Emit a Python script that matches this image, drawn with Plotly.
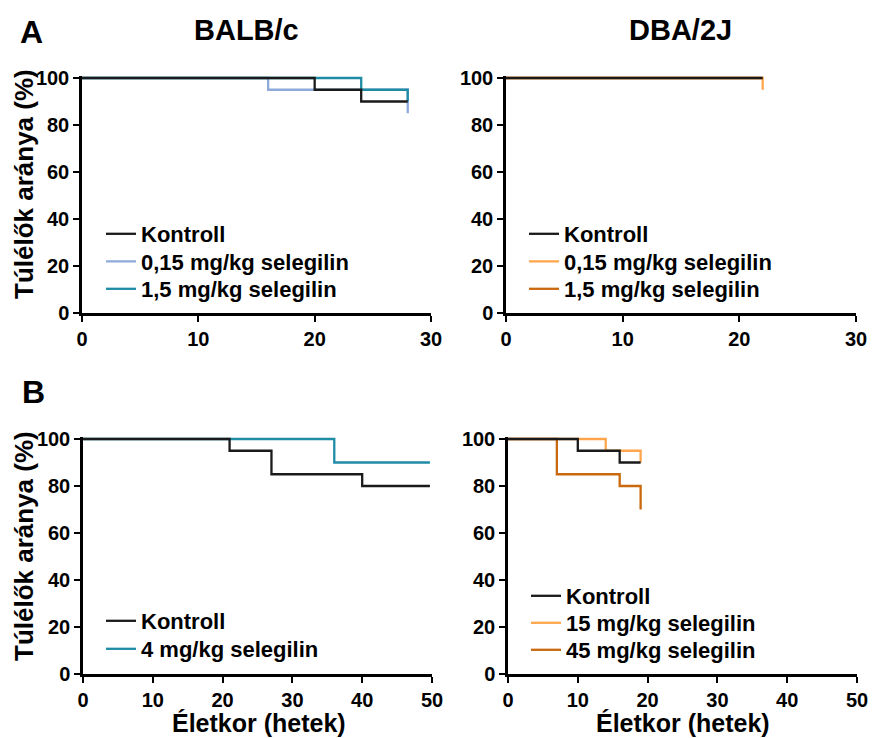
import plotly.graph_objects as go

W, H = 873, 738
OFF = 0

# ---------------- data ----------------
# Panel A, BALB/c (weeks, % survival)
balb_kontroll_x = [0, 20, 24, 28]
balb_kontroll_y = [100, 95, 90, 90]
balb_015_x = [0, 16, 28]
balb_015_y = [100, 95, 85]
balb_15_x = [0, 24, 28]
balb_15_y = [100, 95, 90]

# Panel A, DBA/2J
dba_kontroll_x = [0, 22]
dba_kontroll_y = [100, 100]
dba_015_x = [0, 22]
dba_015_y = [100, 95]
dba_15_x = [0, 22]
dba_15_y = [100, 100]

# Panel B, BALB/c
balbB_kontroll_x = [0, 21, 27, 40, 49.7]
balbB_kontroll_y = [100, 95, 85, 80, 80]
balbB_4_x = [0, 36, 49.7]
balbB_4_y = [100, 90, 90]

# Panel B, DBA/2J
dbaB_kontroll_x = [0, 10, 16, 19]
dbaB_kontroll_y = [100, 95, 90, 90]
dbaB_15_x = [0, 14, 19]
dbaB_15_y = [100, 95, 90]
dbaB_45_x = [0, 7, 16, 19]
dbaB_45_y = [100, 85, 80, 70]

y_ticks = [0, 20, 40, 60, 80, 100]
x_ticks_A = [0, 10, 20, 30]
x_ticks_B = [0, 10, 20, 30, 40, 50]

BLACK = "#1a1a1a"
LBLUE = "#8eaadb"
TEAL = "#1f8ba5"
LORANGE = "#ffa64d"
DORANGE = "#c9680c"

FONT = "Liberation Sans, Arial, sans-serif"


def px(xp):
    return (xp - OFF) / W


def py(yp):
    return 1 - (yp - OFF) / H


fig = go.Figure()
legends = {}
legfont = dict(family=FONT, size=22, color="black", weight="bold")
_count = [0]


def add(x, y, name, color, xa, ya, text_x, row_y):
    _count[0] += 1
    lid = "legend" if _count[0] == 1 else f"legend{_count[0]}"
    fig.add_trace(go.Scatter(
        x=x, y=y, mode="lines", name=name,
        line=dict(color=color, width=2.3, shape="hv"),
        xaxis=xa, yaxis=ya, legend=lid, hoverinfo="skip",
    ))
    legends[lid] = dict(x=px(text_x - 41), y=py(row_y - 22), xanchor="left", yanchor="top",
                        bgcolor="rgba(0,0,0,0)", font=legfont, itemwidth=30)


# draw order: coloured lines first, control on top
add(balb_015_x, balb_015_y, "0,15 mg/kg selegilin", LBLUE, "x", "y", 142, 262.5)
add(balb_15_x, balb_15_y, "1,5 mg/kg selegilin", TEAL, "x", "y", 142, 290)
add(balb_kontroll_x, balb_kontroll_y, "Kontroll", BLACK, "x", "y", 142, 235)

add(dba_015_x, dba_015_y, "0,15 mg/kg selegilin", LORANGE, "x2", "y2", 565, 262.5)
add(dba_15_x, dba_15_y, "1,5 mg/kg selegilin", DORANGE, "x2", "y2", 565, 290)
add(dba_kontroll_x, dba_kontroll_y, "Kontroll", BLACK, "x2", "y2", 565, 235)

add(balbB_4_x, balbB_4_y, "4 mg/kg selegilin", TEAL, "x3", "y3", 142, 650)
add(balbB_kontroll_x, balbB_kontroll_y, "Kontroll", BLACK, "x3", "y3", 142, 622)

add(dbaB_15_x, dbaB_15_y, "15 mg/kg selegilin", LORANGE, "x4", "y4", 567, 624)
add(dbaB_45_x, dbaB_45_y, "45 mg/kg selegilin", DORANGE, "x4", "y4", 567, 651)
add(dbaB_kontroll_x, dbaB_kontroll_y, "Kontroll", BLACK, "x4", "y4", 567, 597)

tickfont = dict(family=FONT, size=20, color="black", weight="bold")


def xaxis(dom, anchor, rng, ticks):
    return dict(domain=dom, anchor=anchor, range=rng, tickvals=ticks,
                showline=True, linewidth=2.5, linecolor="black",
                ticks="outside", ticklen=6, tickwidth=2, tickcolor="black",
                showgrid=False, zeroline=False, tickfont=tickfont, fixedrange=True,
                automargin=False)


def yaxis(dom, anchor):
    return dict(domain=dom, anchor=anchor, range=[0, 101], tickvals=y_ticks,
                showline=True, linewidth=2.5, linecolor="black",
                ticks="outside", ticklen=6, tickwidth=2, tickcolor="black",
                showgrid=False, zeroline=False, tickfont=tickfont, fixedrange=True,
                automargin=False)


top_dom = [py(313), py(75.65)]
bot_dom = [py(674), py(436.65)]


def ann(text, xp, yp, size, angle=0):
    return dict(text=text, x=px(xp), y=py(yp), xref="paper", yref="paper",
                showarrow=False, textangle=angle, xanchor="center", yanchor="middle",
                font=dict(family=FONT, size=size, color="black", weight="bold"))


fig.update_layout(
    width=W, height=H,
    margin=dict(l=0, r=0, t=0, b=0, pad=0, autoexpand=False),
    paper_bgcolor="white", plot_bgcolor="white",
    showlegend=True,
    xaxis=xaxis([px(82), px(431)], "y", [0, 30], x_ticks_A),
    yaxis=yaxis(top_dom, "x"),
    xaxis2=xaxis([px(506), px(856)], "y2", [0, 30], x_ticks_A),
    yaxis2=yaxis(top_dom, "x2"),
    xaxis3=xaxis([px(83), px(432)], "y3", [0, 50], x_ticks_B),
    yaxis3=yaxis(bot_dom, "x3"),
    xaxis4=xaxis([px(508), px(857)], "y4", [0, 50], x_ticks_B),
    yaxis4=yaxis(bot_dom, "x4"),
    annotations=[
        ann("A", 31, 32, 32),
        ann("B", 33, 392, 32),
        ann("BALB/c", 246, 30, 29),
        ann("DBA/2J", 680, 30, 29),
        ann("Túlélők aránya (%)", 24, 184, 26, -90),
        ann("Túlélők aránya (%)", 24, 546, 26, -90),
        ann("Életkor (hetek)", 259, 723, 25),
        ann("Életkor (hetek)", 683, 723, 25),
    ],
)
fig.update_layout(**legends)

fig.write_html("out.html", config={"displayModeBar": False},
               post_script="document.body.style.margin='0px';")
